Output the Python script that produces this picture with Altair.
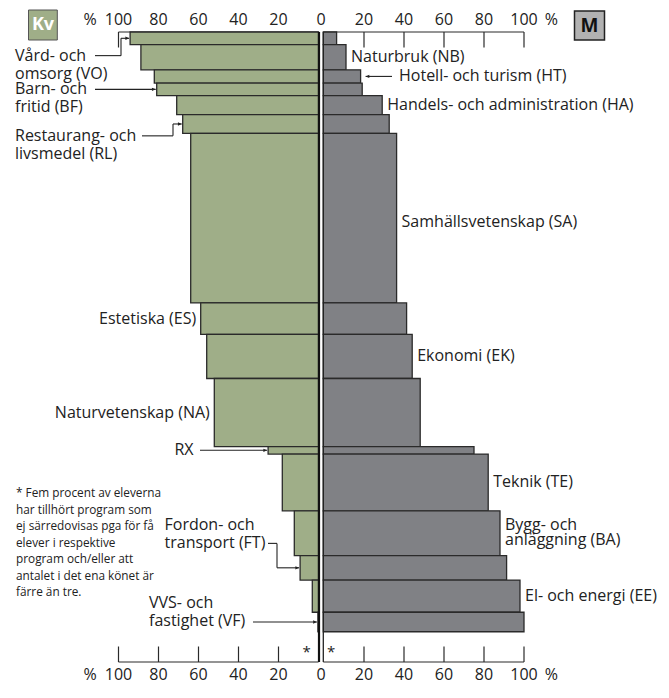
import altair as alt
import pandas as pd

# ---------------- data ----------------
PROGRAMS = ["VO", "NB", "HT", "BF", "HA", "RL", "SA", "ES", "EK", "NA",
            "RX", "TE", "BA", "FT", "EE", "VF"]
# share of all students in each programme (% of students, bar height)
SHARE = [2.0, 4.0, 2.1, 2.0, 3.0, 3.0, 26.9, 5.0, 7.0, 10.8,
         1.2, 9.0, 7.1, 3.9, 5.1, 3.1]
OTHER_SHARE = 4.8          # programmes not shown separately (*)
# share of women / men within each programme (%)
WOMEN = [94.2, 88.8, 82.1, 80.9, 70.9, 67.9, 63.9, 58.9, 55.9, 52.1,
         25.2, 18.1, 12.1, 9.2, 3.1, 0.3]
MEN = [6.3, 11.0, 18.3, 19.1, 29.1, 32.6, 36.3, 41.3, 44.1, 48.1,
       75.0, 82.1, 88.0, 91.3, 98.0, 100.0]
TICKS = [20, 40, 60, 80, 100]

ROW_LABELS_RIGHT = {
    "NB": "Naturbruk (NB)",
    "HA": "Handels- och administration (HA)",
    "SA": "Samhällsvetenskap (SA)",
    "EK": "Ekonomi (EK)",
    "TE": "Teknik (TE)",
    "EE": "El- och energi (EE)",
}
ROW_LABELS_LEFT = {
    "ES": "Estetiska (ES)",
    "NA": "Naturvetenskap (NA)",
}
BA_LABEL = "Bygg- och\nanläggning (BA)"
ARROW_LABELS = {
    "VO": "Vård- och\nomsorg (VO)",
    "BF": "Barn- och\nfritid (BF)",
    "RL": "Restaurang- och\nlivsmedel (RL)",
    "RX": "RX",
    "FT": "Fordon- och\ntransport (FT)",
    "VF": "VVS- och\nfastighet (VF)",
    "HT": "Hotell- och turism (HT)",
}
FOOTNOTE = ("* Fem procent av eleverna\nhar tillhört program som\n"
            "ej särredovisas pga för få\nelever i respektive\n"
            "program och/eller att\nantalet i det ena könet är\n"
            "färre än tre.")

# ---------------- layout / style ----------------
GREEN = "#9fae88"
GRAY = "#808185"
EDGE = "#2a2a2a"
TXT = "#222222"
FONT = "Open Sans"
FS = 16
PAD_L, PAD_T, PAD_R, PAD_B = 0, 24, 0, 23
W, H = 653, 630
X0 = 321.0          # page x of the centre line
PXU = 2.0           # px per percent (x)
PXY = H / 100.0     # px per percent of students (y)
W_OFF = -2.5        # px shift of the women side
M_OFF0, M_OFF = 2.3, 3.0
# annotation positions are given in the reference frame (plot top 33, 6.4 px / %)
REF_TOP, REF_PXY = 33.0, 6.4


def ux(px):
    return (px - X0) / PXU


def uy(py):
    return (py - REF_TOP) / REF_PXY


xs = alt.Scale(domain=[ux(8), ux(8 + W)], nice=False, zero=False)
ys = alt.Scale(domain=[0, 100], reverse=True, nice=False, zero=False)

df = pd.DataFrame({"prog": PROGRAMS, "share": SHARE, "women": WOMEN, "men": MEN})
df["y1"] = df["share"].cumsum()
df["y0"] = df["y1"] - df["share"]
df["yc"] = (df["y0"] + df["y1"]) / 2
df["wneg"] = -df["women"]
df["zero"] = 0.0
row = df.set_index("prog")

X = lambda f: alt.X(f, type="quantitative", scale=xs, axis=None)
Y = lambda f: alt.Y(f, type="quantitative", scale=ys, axis=None)


def text(data, **kw):
    base = dict(font=FONT, fontSize=FS, color=TXT, baseline="middle")
    base.update(kw)
    return alt.Chart(data).mark_text(**base).encode(x=X("x"), y=Y("y"), text="t:N")


# ---------------- axes (drawn) ----------------
tl = 15.5 / PXY
ax_rows = []
for yy in (0, 100):
    ax_rows.append({"x": -100 + W_OFF / PXU, "x2": W_OFF / PXU, "y": yy, "y2": yy})
    ax_rows.append({"x": M_OFF0 / PXU, "x2": 100 + M_OFF / PXU, "y": yy, "y2": yy})
for t in TICKS:
    for side, off in ((-1, W_OFF), (1, M_OFF)):
        xv = side * t + off / PXU
        ax_rows.append({"x": xv, "x2": xv, "y": 0, "y2": tl})
        ax_rows.append({"x": xv, "x2": xv, "y": 100 - tl, "y2": 100})
axes = alt.Chart(pd.DataFrame(ax_rows)).mark_rule(color=EDGE, strokeWidth=1.2).encode(
    x=X("x"), x2="x2", y=Y("y"), y2="y2")


def tick_label_df(yy):
    rows = []
    for t in TICKS:
        rows.append({"x": -t + W_OFF / PXU, "y": yy, "t": str(t)})
        rows.append({"x": t + M_OFF / PXU, "y": yy, "t": str(t)})
    rows.append({"x": 0.0, "y": yy, "t": "0"})
    rows.append({"x": -100 + W_OFF / PXU - 14.2, "y": yy, "t": "%"})
    rows.append({"x": 100 + M_OFF / PXU + 13.7, "y": yy, "t": "%"})
    return pd.DataFrame(rows)


top_labels = text(tick_label_df(0), align="center", dy=-12.5)
bottom_labels = text(tick_label_df(100), align="center", dy=12.5)

# ---------------- bars ----------------
women = alt.Chart(df).mark_bar(
    color=GREEN, stroke=EDGE, strokeWidth=1.3, xOffset=W_OFF, x2Offset=W_OFF
).encode(x=X("wneg"), x2="zero", y=Y("y0"), y2="y1")
men = alt.Chart(df).mark_bar(
    color=GRAY, stroke=EDGE, strokeWidth=1.3, xOffset=M_OFF0, x2Offset=M_OFF
).encode(x=X("zero"), x2="men", y=Y("y0"), y2="y1")

centre_df = pd.DataFrame({"x": [0.0], "y": [0.0], "y2": [100.0]})
centre1 = alt.Chart(centre_df).mark_rule(color="#111", strokeWidth=2.2, xOffset=-2).encode(
    x=X("x"), y=Y("y"), y2="y2")
centre2 = alt.Chart(centre_df).mark_rule(color="#222", strokeWidth=1.3, xOffset=M_OFF0).encode(
    x=X("x"), y=Y("y"), y2="y2")

# ---------------- row labels ----------------
GAP = 5.0
r_rows = []
for p, txt in ROW_LABELS_RIGHT.items():
    dy = 4.0 / PXY if p == "SA" else 0.0
    r_rows.append({"x": row.loc[p, "men"] + (M_OFF + GAP) / PXU,
                   "y": row.loc[p, "yc"] + dy, "t": txt})
right_labels = text(pd.DataFrame(r_rows), align="left")

ba_df = pd.DataFrame([{"x": row.loc["BA", "men"] + (M_OFF + GAP) / PXU,
                       "y": row.loc["BA", "yc"] - 8.5 / PXY, "t": BA_LABEL}])
ba_label = text(ba_df, align="left", lineBreak="\n", lineHeight=15.6)

l_rows = []
for p, txt in ROW_LABELS_LEFT.items():
    l_rows.append({"x": -row.loc[p, "women"] + (W_OFF - 4.5) / PXU,
                   "y": row.loc[p, "yc"], "t": txt})
left_labels = text(pd.DataFrame(l_rows), align="right")

# ---------------- arrow labels + arrows ----------------
# text anchors (reference page px): (x, first-line centre y, align)
TEXT_POS = {
    "VO": (15, 57.0, "left"),
    "BF": (15, 90.5, "left"),
    "RL": (15, 138.5, "left"),
    "RX": (193.5, 458.0, "right"),
    "FT": (164.5, 533.5, "left"),
    "VF": (149, 612.7, "left"),
    "HT": (399, 78.0, "left"),
}
a_rows = []
for p, (px, py, al) in TEXT_POS.items():
    a_rows.append({"x": ux(px), "y": uy(py), "t": ARROW_LABELS[p], "a": al})
a_df = pd.DataFrame(a_rows)
arrow_text_l = text(a_df[a_df.a == "left"], align="left", lineBreak="\n", lineHeight=18)
arrow_text_r = text(a_df[a_df.a == "right"], align="right")

# arrows: start (reference px), optional bend; tip at the bar edge
ARROWS = {
    "VO": (95, 57.0, 121),
    "BF": (95, None, None),
    "RL": (142, 138.5, 173),
    "RX": (200, None, None),
    "FT": (268, 552.5, 277),
    "VF": (253, None, None),
}
seg_rows, head_rows = [], []
for p, (sx, sy, bx) in ARROWS.items():
    tip_x = -row.loc[p, "women"] + (W_OFF - 1.0) / PXU
    tip_y = row.loc[p, "yc"]
    if bx is None:
        seg_rows.append({"x": ux(sx), "y": tip_y, "x2": tip_x, "y2": tip_y})
    else:
        seg_rows.append({"x": ux(sx), "y": uy(sy), "x2": ux(bx), "y2": uy(sy)})
        seg_rows.append({"x": ux(bx), "y": uy(sy), "x2": ux(bx), "y2": tip_y})
        seg_rows.append({"x": ux(bx), "y": tip_y, "x2": tip_x, "y2": tip_y})
    head_rows.append({"x": tip_x, "y": tip_y})
ht_tip = row.loc["HT", "men"] + (M_OFF + 5.0) / PXU
ht_y = row.loc["HT", "yc"]
seg_rows.append({"x": ux(392), "y": ht_y, "x2": ht_tip, "y2": ht_y})
segs = alt.Chart(pd.DataFrame(seg_rows)).mark_rule(color=TXT, strokeWidth=1.1).encode(
    x=X("x"), y=Y("y"), x2="x2", y2="y2")
heads_r = alt.Chart(pd.DataFrame(head_rows)).mark_point(
    shape="M-1,-0.45L0,0L-1,0.45Z", size=56, filled=True, color=TXT, opacity=1
).encode(x=X("x"), y=Y("y"))
heads_l = alt.Chart(pd.DataFrame([{"x": ht_tip, "y": ht_y}])).mark_point(
    shape="M1,-0.45L0,0L1,0.45Z", size=56, filled=True, color=TXT, opacity=1
).encode(x=X("x"), y=Y("y"))

# ---------------- footnote & asterisks ----------------
foot = text(pd.DataFrame([{"x": ux(16), "y": uy(501.7), "t": FOOTNOTE}]),
            fontSize=11.8, align="left", lineBreak="\n", lineHeight=16.5)

other_mid = 100 - OTHER_SHARE / 2
stars = text(pd.DataFrame([
    {"x": -6.0 + W_OFF / PXU, "y": other_mid, "t": "*"},
    {"x": 3.5 + M_OFF / PXU, "y": other_mid, "t": "*"},
]), fontSize=15, align="center", dy=5)

# ---------------- Kv / M boxes (pixel placed, legend-like) ----------------
one = pd.DataFrame({"a": [0]})
kv_box = alt.Chart(one).mark_rect(fill=GREEN, stroke="#555", strokeWidth=1).encode(
    x=alt.value(20.5), x2=alt.value(49.3), y=alt.value(-22), y2=alt.value(8))
kv_txt = alt.Chart(one).mark_text(
    text="Kv", font=FONT, fontSize=18, fontWeight="bold", color="white"
).encode(x=alt.value(35), y=alt.value(-7))
m_box = alt.Chart(one).mark_rect(fill="#b2b2b2", stroke="#222", strokeWidth=1.5).encode(
    x=alt.value(566.5), x2=alt.value(596.5), y=alt.value(-21), y2=alt.value(8))
m_txt = alt.Chart(one).mark_text(
    text="M", font=FONT, fontSize=19, fontWeight="bold", color="#111"
).encode(x=alt.value(581.5), y=alt.value(-6.5))

chart = alt.layer(
    axes, women, men, centre1, centre2, top_labels, bottom_labels,
    right_labels, ba_label, left_labels, arrow_text_l, arrow_text_r,
    segs, heads_r, heads_l, foot, stars, kv_box, kv_txt, m_box, m_txt
).properties(
    width=W, height=H,
    autosize=alt.AutoSizeParams(type="none"),
    padding={"left": PAD_L, "top": PAD_T, "right": PAD_R, "bottom": PAD_B},
    background="white",
).configure_view(stroke=None)

chart.save("out.html", embed_options={"renderer": "svg", "actions": False})
